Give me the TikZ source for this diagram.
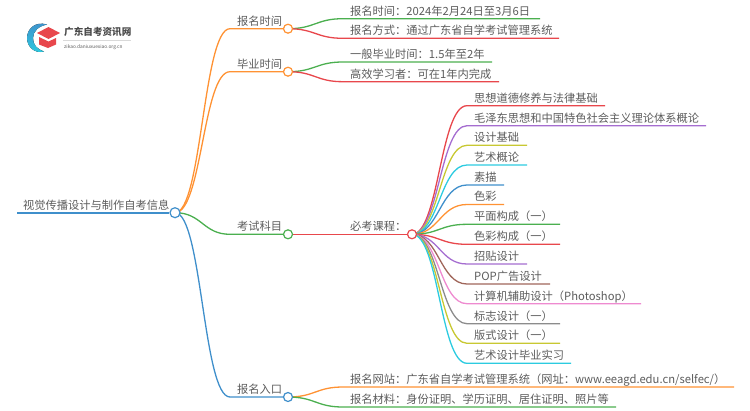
\documentclass[tikz,border=0pt]{standalone}
\usepackage{fontspec}
\usetikzlibrary{backgrounds}
\setmainfont{Noto Sans CJK SC}
\definecolor{lineblue}{HTML}{3F8FCB}
\definecolor{lineorange}{HTML}{FF9233}
\definecolor{linegreen}{HTML}{4BAF4F}
\definecolor{linered}{HTML}{E8474C}
\definecolor{linepurple}{HTML}{A56DD0}
\definecolor{lineolive}{HTML}{C8C832}
\definecolor{linecyan}{HTML}{2CCBE0}
\definecolor{linebrown}{HTML}{A0665A}
\definecolor{linepink}{HTML}{EE8AD0}
\definecolor{linegray}{HTML}{8C8C8C}
\definecolor{textgray}{HTML}{5C5C5C}
\tikzset{
	wave/.style={to path={.. controls +(27,0) and +(-27,0) .. (\tikztotarget)}},
	branch/.style={line width=1.3pt},
	dot/.style={circle, draw, fill=white, line width=1.2pt, inner sep=0pt, minimum size=9pt},
	label/.style={anchor=base west, xshift=7pt, yshift=3.6pt, inner sep=0pt, text=textgray, font=\fontsize{11.25}{13}\selectfont},
}

\begin{document}
\begin{tikzpicture}[x=1pt, y=-1pt]
	\useasboundingbox (0,0) rectangle (750,410);

	\fill[top color=lineblue, bottom color=linecyan] (47,24.5) .. controls (35,21) and (27,29) .. (27,38) .. controls (27,47) and (35,54) .. (44,51.5) .. controls (37,49) and (33,45) .. (33,38) .. controls (33,31) and (39,26) .. (47,24.5) -- cycle;
	\fill[linered] (37,33) -- (48.5,27) -- (60,33) -- (48.5,39) -- cycle;
	\fill[linered] (39,37) -- (48.5,41.5) -- (56,38) -- (56,44.5) -- (48,48) -- (39,44.5) -- cycle;
	\node[anchor=base west, inner sep=0pt, text=textgray!80!black, font=\fontsize{9.6}{11}\selectfont\bfseries] (LogoName) at (64,35.5) {广东自考资讯网};
	\node[anchor=base west, inner sep=0pt, text=textgray, font=\fontsize{4.8}{6}\selectfont] (LogoSite) at (64,48) {zikao.daniuxuexiao.org.cn};
	\coordinate (LogoA) at (63,40.3);
	\coordinate (LogoB) at (131,40.3);
	\draw[black!15, line width=0.5pt] (LogoA) -- (LogoB);

	\node[dot, draw=lineblue, minimum size=10pt] (Root) at (175,212.7) {};
	\node[dot, draw=lineorange] (Apply) at (288,28.7) {};
	\node[dot, draw=lineorange] (Finish) at (288,71.7) {};
	\node[dot, draw=linegreen] (Exam) at (288,234.3) {};
	\node[dot, draw=lineblue] (Entry) at (288,397) {};
	\node[dot, draw=linered] (Must) at (412,234.3) {};

	\coordinate (RootS) at (17,212.7);
	\coordinate (ApplyS) at (230,28.7);
	\coordinate (FinishS) at (230,71.7);
	\coordinate (ExamS) at (230,234.3);
	\coordinate (EntryS) at (230,397);
	\coordinate (MustS) at (343,234.3);

	\coordinate (A1S) at (343,18.7);
	\coordinate (A1E) at (540,18.7);
	\coordinate (A2S) at (343,38.3);
	\coordinate (A2E) at (559,38.3);

	\coordinate (F1S) at (343,62);
	\coordinate (F1E) at (492,62);
	\coordinate (F2S) at (343,81.7);
	\coordinate (F2E) at (499,81.7);

	\coordinate (E1S) at (343,387);
	\coordinate (E1E) at (734,387);
	\coordinate (E2S) at (343,407);
	\coordinate (E2E) at (616,407);

	\coordinate (C1S) at (467,105.7);
	\coordinate (C1E) at (605,105.7);
	\coordinate (C2S) at (467,125.7);
	\coordinate (C2E) at (706,125.7);
	\coordinate (C3S) at (467,145.3);
	\coordinate (C3E) at (527,145.3);
	\coordinate (C4S) at (467,165);
	\coordinate (C4E) at (527,165);
	\coordinate (C5S) at (467,185);
	\coordinate (C5E) at (504,185);
	\coordinate (C6S) at (467,204.5);
	\coordinate (C6E) at (504,204.5);
	\coordinate (C7S) at (467,224.3);
	\coordinate (C7E) at (560,224.3);
	\coordinate (C8S) at (467,244.3);
	\coordinate (C8E) at (560,244.3);
	\coordinate (C9S) at (467,264);
	\coordinate (C9E) at (527,264);
	\coordinate (C10S) at (467,284);
	\coordinate (C10E) at (550,284);
	\coordinate (C11S) at (467,303.7);
	\coordinate (C11E) at (641,303.7);
	\coordinate (C12S) at (467,323.7);
	\coordinate (C12E) at (560,323.7);
	\coordinate (C13S) at (467,343.3);
	\coordinate (C13E) at (560,343.3);
	\coordinate (C14S) at (467,363.3);
	\coordinate (C14E) at (571,363.3);

	\begin{scope}[on background layer]
		\draw[branch, lineblue, line width=1.7pt] (RootS) -- (Root);
		\draw[branch, lineorange] (Root.center) to[wave] (ApplyS) -- (Apply);
		\draw[branch, lineorange] (Root.center) to[wave] (FinishS) -- (Finish);
		\draw[branch, linegreen] (Root.center) to[wave] (ExamS) -- (Exam);
		\draw[branch, lineblue] (Root.center) to[wave] (EntryS) -- (Entry);
		\draw[branch, linered] (Exam) -- (Must);

		\draw[branch, linegreen] (Apply.center) to[wave] (A1S) -- (A1E);
		\draw[branch, linered] (Apply.center) to[wave] (A2S) -- (A2E);
		\draw[branch, linegreen] (Finish.center) to[wave] (F1S) -- (F1E);
		\draw[branch, linered] (Finish.center) to[wave] (F2S) -- (F2E);
		\draw[branch, lineorange] (Entry.center) to[wave] (E1S) -- (E1E);
		\draw[branch, linegreen] (Entry.center) to[wave] (E2S) -- (E2E);

		\draw[branch, linered] (Must.center) to[wave] (C1S) -- (C1E);
		\draw[branch, linepurple] (Must.center) to[wave] (C2S) -- (C2E);
		\draw[branch, lineolive] (Must.center) to[wave] (C3S) -- (C3E);
		\draw[branch, linecyan] (Must.center) to[wave] (C4S) -- (C4E);
		\draw[branch, lineblue] (Must.center) to[wave] (C5S) -- (C5E);
		\draw[branch, lineorange] (Must.center) to[wave] (C6S) -- (C6E);
		\draw[branch, linegreen] (Must.center) to[wave] (C7S) -- (C7E);
		\draw[branch, linered] (Must.center) to[wave] (C8S) -- (C8E);
		\draw[branch, linepurple] (Must.center) to[wave] (C9S) -- (C9E);
		\draw[branch, linebrown] (Must.center) to[wave] (C10S) -- (C10E);
		\draw[branch, linepink] (Must.center) to[wave] (C11S) -- (C11E);
		\draw[branch, linegray] (Must.center) to[wave] (C12S) -- (C12E);
		\draw[branch, lineolive] (Must.center) to[wave] (C13S) -- (C13E);
		\draw[branch, linecyan] (Must.center) to[wave] (C14S) -- (C14E);
	\end{scope}

	\node[label, xshift=-1pt] at (RootS) {视觉传播设计与制作自考信息};
	\node[label] at (ApplyS) {报名时间};
	\node[label] at (FinishS) {毕业时间};
	\node[label] at (ExamS) {考试科目};
	\node[label] at (EntryS) {报名入口};
	\node[label] at (MustS) {必考课程：};

	\node[label] at (A1S) {报名时间：2024年2月24日至3月6日};
	\node[label] at (A2S) {报名方式：通过广东省自学考试管理系统};
	\node[label] at (F1S) {一般毕业时间：1.5年至2年};
	\node[label] at (F2S) {高效学习者：可在1年内完成};
	\node[label] at (E1S) {报名网站：广东省自学考试管理系统（网址：www.eeagd.edu.cn/selfec/）};
	\node[label] at (E2S) {报名材料：身份证明、学历证明、居住证明、照片等};

	\node[label] at (C1S) {思想道德修养与法律基础};
	\node[label] at (C2S) {毛泽东思想和中国特色社会主义理论体系概论};
	\node[label] at (C3S) {设计基础};
	\node[label] at (C4S) {艺术概论};
	\node[label] at (C5S) {素描};
	\node[label] at (C6S) {色彩};
	\node[label] at (C7S) {平面构成（一）};
	\node[label] at (C8S) {色彩构成（一）};
	\node[label] at (C9S) {招贴设计};
	\node[label] at (C10S) {POP广告设计};
	\node[label] at (C11S) {计算机辅助设计（Photoshop）};
	\node[label] at (C12S) {标志设计（一）};
	\node[label] at (C13S) {版式设计（一）};
	\node[label] at (C14S) {艺术设计毕业实习};
\end{tikzpicture}
\end{document}
